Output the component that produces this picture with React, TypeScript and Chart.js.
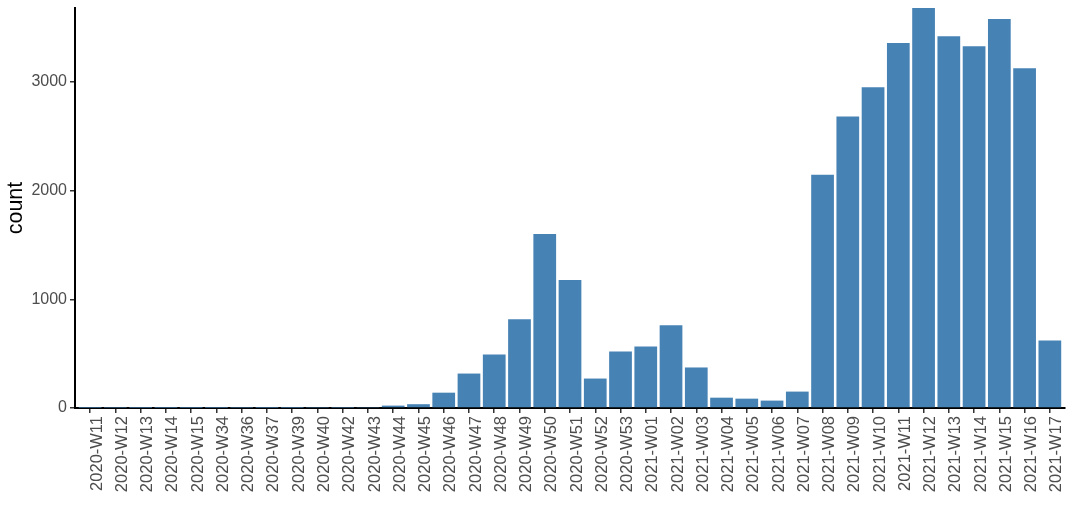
import { useEffect, useRef } from 'react';
import Chart from 'chart.js/auto';

// weeks on the x axis, in order
const weeks = [
  '2020-W11', '2020-W12', '2020-W13', '2020-W14', '2020-W15', '2020-W34',
  '2020-W36', '2020-W37', '2020-W39', '2020-W40', '2020-W42', '2020-W43',
  '2020-W44', '2020-W45', '2020-W46', '2020-W47', '2020-W48', '2020-W49',
  '2020-W50', '2020-W51', '2020-W52', '2020-W53', '2021-W01', '2021-W02',
  '2021-W03', '2021-W04', '2021-W05', '2021-W06', '2021-W07', '2021-W08',
  '2021-W09', '2021-W10', '2021-W11', '2021-W12', '2021-W13', '2021-W14',
  '2021-W15', '2021-W16', '2021-W17',
];

// counts
const counts = [
  1, 2, 1, 1, 1, 1,
  2, 1, 1, 3, 2, 4,
  22, 35, 141, 317, 493, 816,
  1602, 1177, 271, 520, 567, 761,
  373, 95, 86, 68, 151, 2147,
  2683, 2951, 3358, 3681, 3422, 3330,
  3580, 3127, 622,
];

const yTicks = [0, 1000, 2000, 3000];

const BAR_COLOR = '#4682B4';
const TICK_TEXT = '#4d4d4d';
const FONT = "'Liberation Sans', Arial, sans-serif";

export default function App() {
  const canvasRef = useRef<HTMLCanvasElement>(null);
  const chartRef = useRef<Chart | null>(null);

  useEffect(() => {
    document.body.style.margin = '0';
    if (!canvasRef.current) return;
    if (chartRef.current) chartRef.current.destroy();

    const points = counts.map((v, i) => ({ x: i, y: v }));

    chartRef.current = new Chart(canvasRef.current, {
      type: 'bar',
      data: {
        datasets: [
          {
            data: points as any,
            backgroundColor: BAR_COLOR,
            borderWidth: 0,
            barPercentage: 0.9,
            categoryPercentage: 1,
          },
        ],
      },
      options: {
        animation: false,
        responsive: true,
        maintainAspectRatio: false,
        layout: { padding: { top: 8, right: 9, left: 0, bottom: 0 } },
        plugins: {
          legend: { display: false },
          tooltip: { enabled: false },
        },
        scales: {
          x: {
            type: 'linear',
            offset: false,
            min: -0.6,
            max: weeks.length - 1 + 0.6,
            afterFit: (scale: any) => {
              scale.height = 112;
              scale.paddingLeft = 0;
              scale.paddingRight = 0;
            },
            border: { display: true, color: '#000', width: 2 },
            grid: {
              offset: false,
              drawOnChartArea: false,
              drawTicks: true,
              tickLength: 5,
              color: '#333',
              lineWidth: 1.5,
            },
            ticks: {
              stepSize: 1,
              includeBounds: false,
              autoSkip: false,
              minRotation: 90,
              maxRotation: 90,
              padding: 3,
              labelOffset: 7,
              color: TICK_TEXT,
              font: { family: FONT, size: 16.5 },
              callback: (value: any) => weeks[value as number] ?? '',
            },
          },
          y: {
            min: 0,
            max: Math.max(...counts),
            afterFit: (scale: any) => {
              scale.width = 75;
              scale.paddingTop = 0;
              scale.paddingBottom = 0;
            },
            afterBuildTicks: (scale: any) => {
              scale.ticks = yTicks.map((v) => ({ value: v }));
            },
            border: { display: true, color: '#000', width: 2 },
            grid: {
              drawOnChartArea: false,
              drawTicks: true,
              tickLength: 5,
              color: '#333',
              lineWidth: 1.5,
            },
            ticks: {
              padding: 3,
              color: TICK_TEXT,
              font: { family: FONT, size: 16 },
              callback: (value: any) => String(value),
            },
            title: {
              display: true,
              text: 'count',
              color: '#000',
              font: { family: FONT, size: 21.5 },
              padding: { top: 3, bottom: 0 },
            },
          },
        },
      },
    });

    return () => {
      if (chartRef.current) {
        chartRef.current.destroy();
        chartRef.current = null;
      }
    };
  }, []);

  return (
    <div style={{ width: 1074, height: 520, position: 'relative', background: '#fff' }}>
      <canvas ref={canvasRef} />
    </div>
  );
}
